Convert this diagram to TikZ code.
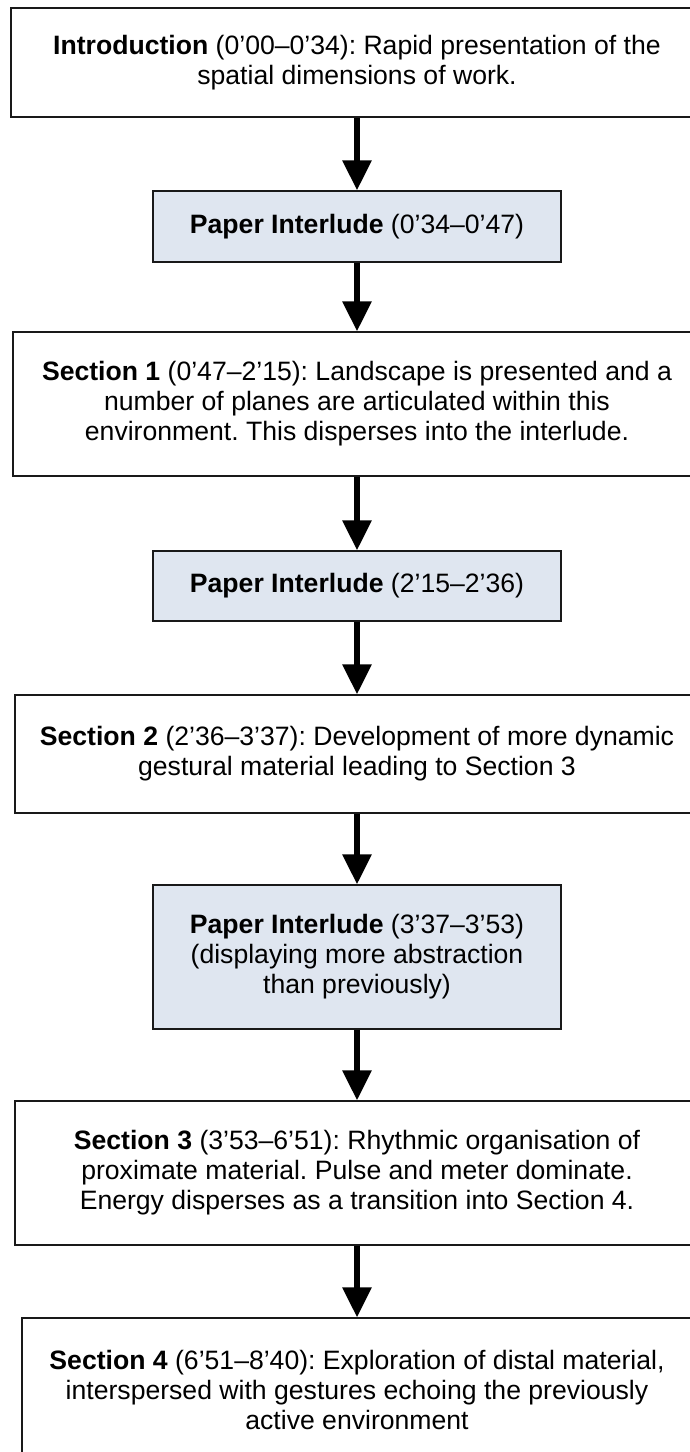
\documentclass[tikz,border=0pt]{standalone}
\usepackage{fontspec}
\setmainfont{Liberation Sans}
\usetikzlibrary{arrows.meta}
\definecolor{interfill}{RGB}{223,230,240}
\definecolor{boxline}{RGB}{25,25,25}
\begin{document}
\frenchspacing
\begin{tikzpicture}[x=1pt,y=-1pt,
  box/.style={draw=boxline, line width=1.3pt, fill=white, align=center,
    inner sep=0pt, font=\fontsize{26.6}{30}\selectfont},
  interbox/.style={box, fill=interfill, minimum width=408pt},
  flow/.style={line width=5.7pt, draw=black,
    -{Triangle[width=28pt,length=30pt]}}
]
\useasboundingbox (0,0) rectangle (690,1452);
\clip (0,0) rectangle (690,1452);

% sections and interludes, top to bottom
\node[box, minimum width=692pt, minimum height=109pt] (intro) at (357,62.5)
  {\textbf{Introduction} (0’00–0’34): Rapid presentation of the\\spatial dimensions of work.};
\node[interbox, minimum height=71pt] (pi1) at (357,226.5)
  {\textbf{Paper Interlude} (0’34–0’47)};
\node[box, minimum width=688pt, minimum height=144pt] (s1) at (357,404)
  {\textbf{Section 1} (0’47–2’15): Landscape is presented and a\\number of planes are articulated within this\\environment. This disperses into the interlude.};
\node[interbox, minimum height=70pt] (pi2) at (357,586)
  {\textbf{Paper Interlude} (2’15–2’36)};
\node[box, minimum width=684pt, minimum height=118pt] (s2) at (357,754)
  {\textbf{Section 2} (2’36–3’37): Development of more dynamic\\gestural material leading to Section 3};
\node[interbox, minimum height=144pt] (pi3) at (357,957)
  {\textbf{Paper Interlude} (3’37–3’53)\\(displaying more abstraction\\than previously)};
\node[box, minimum width=684pt, minimum height=144pt] (s3) at (357,1173)
  {\textbf{Section 3} (3’53–6’51): Rhythmic organisation of\\proximate material. Pulse and meter dominate.\\Energy disperses as a transition into Section 4.};
\node[box, minimum width=670pt, minimum height=144pt] (s4) at (357,1390)
  {\textbf{Section 4} (6’51–8’40): Exploration of distal material,\\interspersed with gestures echoing the previously\\active environment};

% connectors
\draw[flow] (intro) -- (pi1);
\draw[flow] (pi1) -- (s1);
\draw[flow] (s1) -- (pi2);
\draw[flow] (pi2) -- (s2);
\draw[flow] (s2) -- (pi3);
\draw[flow] (pi3) -- (s3);
\draw[flow] (s3) -- (s4);
\end{tikzpicture}
\end{document}
